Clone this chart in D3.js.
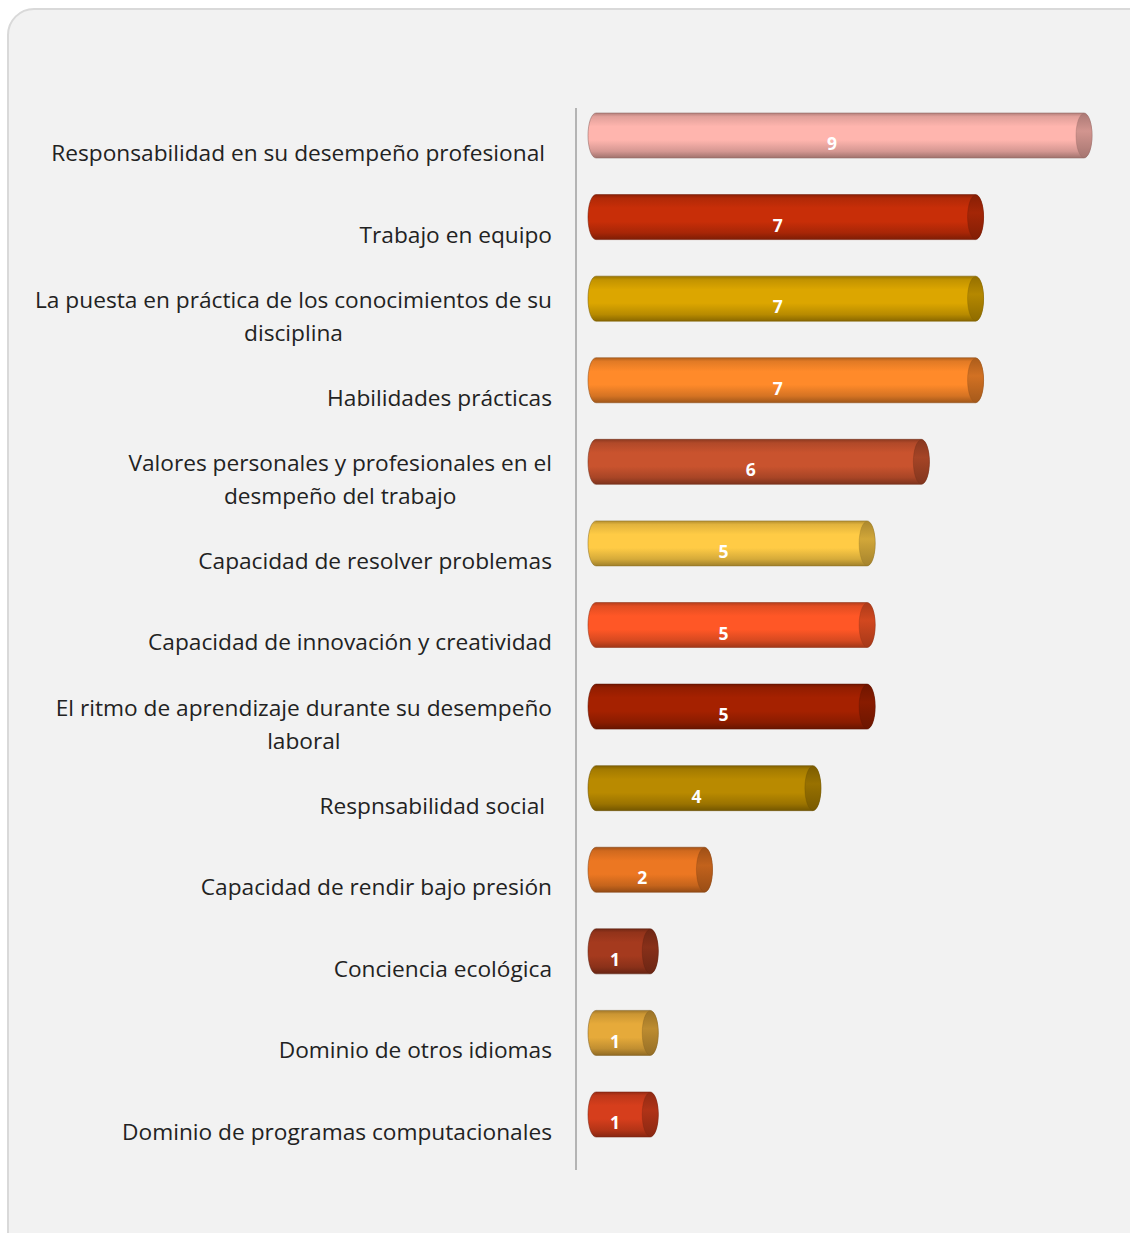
<!DOCTYPE html>
<html><head><meta charset="utf-8">
<script src="https://cdn.jsdelivr.net/npm/d3@7"></script>
<style>html,body{margin:0;padding:0;background:#fff;}svg{display:block;}</style>
</head><body>
<svg id="chart" width="1130" height="1233"></svg>
<script>
const categories = [
  "Responsabilidad en su desempeño profesional ",
  "Trabajo en equipo",
  "La puesta en práctica de los conocimientos de su disciplina",
  "Habilidades prácticas",
  "Valores personales y profesionales en el desmpeño del trabajo",
  "Capacidad de resolver problemas",
  "Capacidad de innovación y creatividad",
  "El ritmo de aprendizaje durante su desempeño laboral",
  "Respnsabilidad social ",
  "Capacidad de rendir bajo presión",
  "Conciencia ecológica",
  "Dominio de otros idiomas",
  "Dominio de programas computacionales"
];
const values = [9, 7, 7, 7, 6, 5, 5, 5, 4, 2, 1, 1, 1];
const colors = ["#FFB5AE","#C82E08","#DCA600","#FF8A2A","#C9532E","#FFCB45","#FF5726","#A52100","#B98A00","#EC7722","#A53A1E","#E6AA3A","#D63E1C"];

const svg = d3.select("#chart");
const FONT = "'Open Sans', sans-serif";

svg.append("rect").attr("x", 8).attr("y", 9).attr("width", 1160).attr("height", 1260)
  .attr("rx", 26).attr("ry", 26).attr("fill", "#f2f2f2").attr("stroke", "#d9d9d9").attr("stroke-width", 2);

const x = d3.scaleLinear().domain([0, 9]).range([596, 1084]);
const y = d3.scalePoint().domain(categories).range([135.5, 1114.5]);
const barH = 45, rx = 8;

const defs = svg.append("defs");
colors.forEach((c, i) => {
  const base = d3.color(c);
  const g = defs.append("linearGradient").attr("id", "g" + i).attr("x1", 0).attr("y1", 0).attr("x2", 0).attr("y2", 1);
  g.append("stop").attr("offset", "0%").attr("stop-color", base.darker(1.0));
  g.append("stop").attr("offset", "8%").attr("stop-color", base.darker(0.35));
  g.append("stop").attr("offset", "30%").attr("stop-color", base);
  g.append("stop").attr("offset", "60%").attr("stop-color", base);
  g.append("stop").attr("offset", "85%").attr("stop-color", base.darker(0.5));
  g.append("stop").attr("offset", "100%").attr("stop-color", base.darker(1.3));
  const g2 = defs.append("linearGradient").attr("id", "c" + i).attr("x1", 0).attr("y1", 0).attr("x2", 0).attr("y2", 1);
  g2.append("stop").attr("offset", "0%").attr("stop-color", base.darker(1.1));
  g2.append("stop").attr("offset", "40%").attr("stop-color", base.darker(0.55));
  g2.append("stop").attr("offset", "100%").attr("stop-color", base.darker(1.2));
});

svg.append("line").attr("x1", 576).attr("x2", 576).attr("y1", 108).attr("y2", 1170)
  .attr("stroke", "#b4b4b4").attr("stroke-width", 2);

const bars = svg.append("g").selectAll("g").data(categories).join("g");
bars.each(function(cat, i) {
  const g = d3.select(this);
  const cy = y(cat), top = cy - barH / 2;
  const x0 = x(0), x1 = x(values[i]);
  const stroke = d3.color(colors[i]).darker(1.6);
  const d = `M${x0},${top} L${x1},${top} A${rx},${barH/2} 0 0 1 ${x1},${top+barH} L${x0},${top+barH} A${rx},${barH/2} 0 0 1 ${x0},${top} Z`;
  g.append("path").attr("d", d).attr("fill", `url(#g${i})`).attr("stroke", stroke).attr("stroke-opacity", 0.55).attr("stroke-width", 1);
  g.append("ellipse").attr("cx", x1).attr("cy", cy).attr("rx", rx).attr("ry", barH / 2 - 0.5)
    .attr("fill", `url(#c${i})`).attr("stroke", stroke).attr("stroke-opacity", 0.4).attr("stroke-width", 0.8);
  g.append("text").attr("x", (x0 + x1) / 2 - 8).attr("y", cy + 8.5).attr("dy", "0.35em")
    .attr("text-anchor", "middle").attr("font-family", FONT).attr("font-weight", "bold")
    .attr("font-size", 17.5).attr("fill", "#ffffff").text(values[i]);
});

const labelX = 552, maxW = 530, lineH = 33, fs = 22.7;
const lab = svg.append("g").attr("font-family", FONT).attr("font-size", fs).attr("fill", "#222");
categories.forEach(cat => {
  const words = cat.trim().split(/\s+/);
  const trailing = cat.endsWith(" ");
  const t = lab.append("text").attr("text-anchor", "middle");
  const lines = [];
  let cur = [];
  const meas = lab.append("text").attr("visibility", "hidden");
  words.forEach(w => {
    const test = cur.concat([w]).join(" ");
    meas.text(test);
    if (meas.node().getComputedTextLength() > maxW && cur.length) { lines.push(cur.join(" ")); cur = [w]; }
    else cur.push(w);
  });
  lines.push(cur.join(" "));
  let widest = 0;
  lines.forEach(l => { meas.text(l); widest = Math.max(widest, meas.node().getComputedTextLength()); });
  meas.remove();
  const shift = trailing ? 7 : 0;
  const cx = labelX - shift - widest / 2;
  const cy = y(cat) + 17.5;
  const y0 = cy - (lines.length - 1) * lineH / 2;
  lines.forEach((l, k) => {
    t.append("tspan").attr("x", cx).attr("y", y0 + k * lineH).attr("dy", "0.35em").text(l);
  });
});
</script>
</body></html>
